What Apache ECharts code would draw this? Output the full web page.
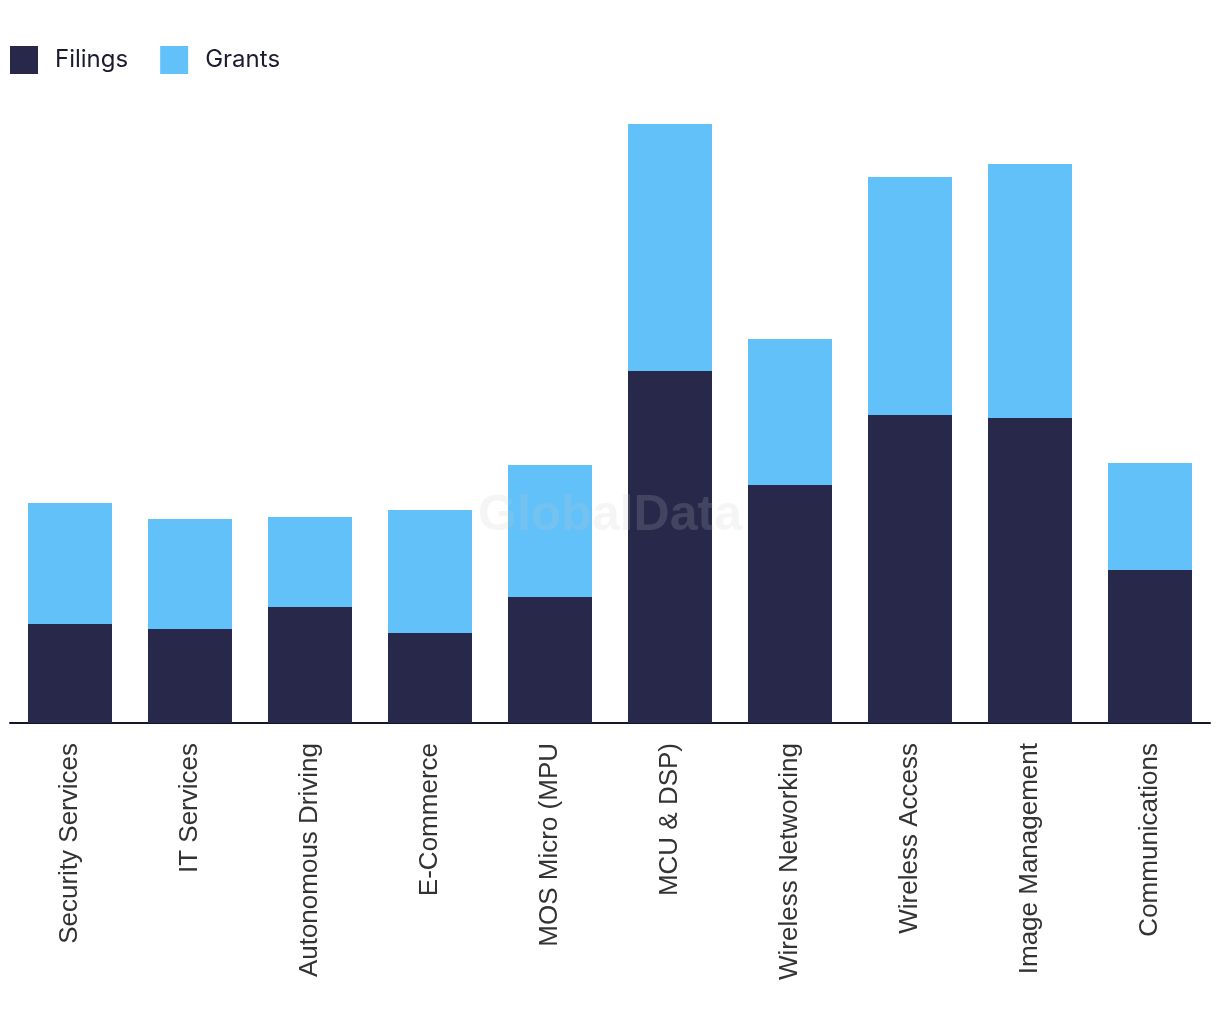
<!DOCTYPE html>
<html><head><meta charset="utf-8">
<script src="https://cdn.jsdelivr.net/npm/echarts@6/dist/echarts.min.js"></script>
<style>html,body{margin:0;padding:0;background:#fff}#c{width:1220px;height:1032px}</style>
</head><body><div id="c"></div>
<script>
const categories = ["Security Services","IT Services","Autonomous Driving","E-Commerce","MOS Micro (MPU","MCU & DSP)","Wireless Networking","Wireless Access","Image Management","Communications"];
const filings = [99, 94, 116, 90, 126, 352, 238, 308, 305, 153];
const grants = [121, 110, 90, 123, 132, 247, 146, 238, 254, 107];

const chart = echarts.init(document.getElementById('c'));
chart.setOption({
  animation: false,
  legend: {
    left: 10, top: 46, padding: 0, itemWidth: 28, itemHeight: 28, itemGap: 32,
    icon: 'rect',
    textStyle: { fontFamily: 'Inter', fontSize: 24, color: '#1b1b2f', padding: [0,0,0,12] },
    data: ['Filings','Grants']
  },
  grid: { left: 10, right: 10, top: 123, bottom: 309, containLabel: false },
  xAxis: {
    type: 'category', data: categories,
    axisLine: { lineStyle: { color: '#15152a', width: 2 } },
    axisTick: { show: false },
    axisLabel: { rotate: 90, margin: 20, fontFamily: 'Liberation Sans', fontSize: 26, color: '#333', interval: 0 }
  },
  yAxis: { type: 'value', min: 0, max: 600, show: false, splitLine: { show: false } },
  graphic: [{
    type: 'text', left: 'center', top: 491, z: 100,
    style: { text: 'GlobalData', font: 'bold 50px "Liberation Sans"', fill: 'rgba(200,200,200,0.18)' }
  }],
  series: [
    { name: 'Filings', type: 'bar', stack: 't', barWidth: '70%', data: filings, itemStyle: { color: '#27284a' } },
    { name: 'Grants', type: 'bar', stack: 't', barWidth: '70%', data: grants, itemStyle: { color: '#62c1f9' } }
  ]
});
</script></body></html>
